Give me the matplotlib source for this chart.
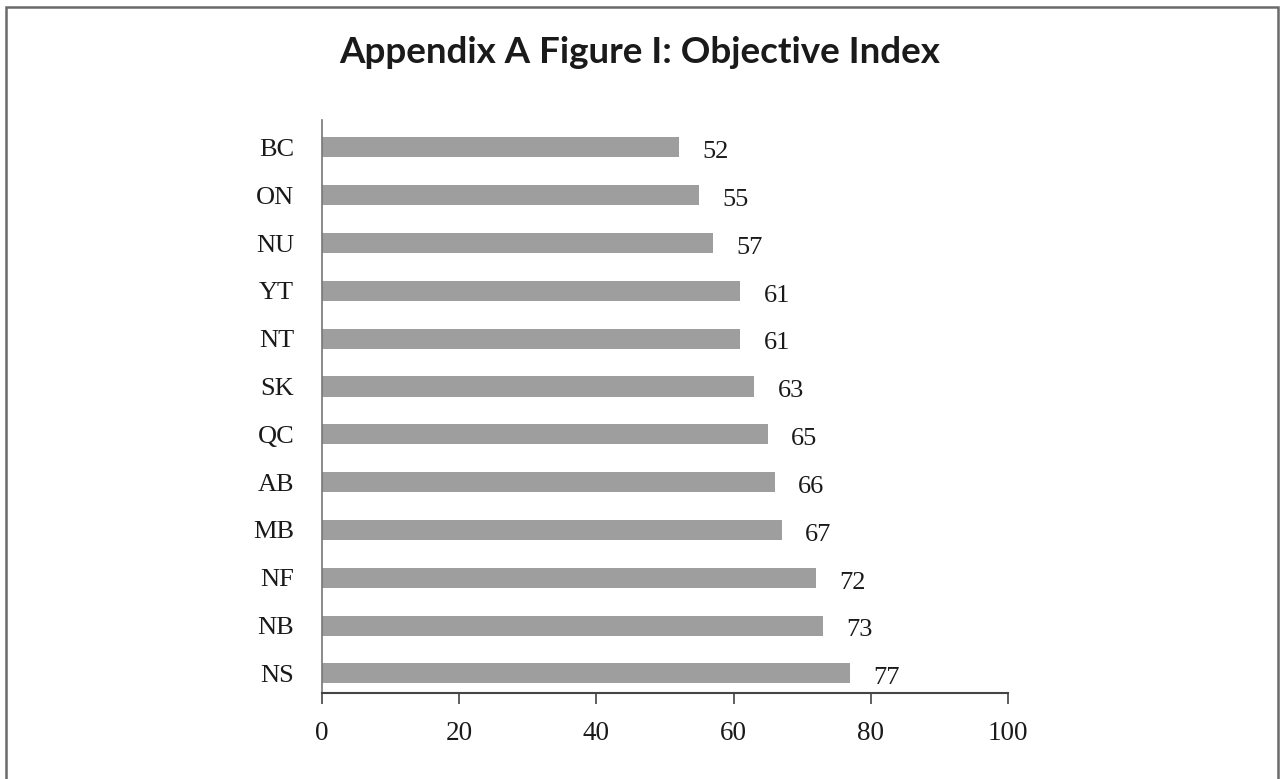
import matplotlib
matplotlib.use("Agg")
import matplotlib.pyplot as plt
import matplotlib.patches as mpatches
import numpy as np

PROVINCES = ["BC", "ON", "NU", "YT", "NT", "SK", "QC", "AB", "MB", "NF", "NB", "NS"]
INDEX = [52, 55, 57, 61, 61, 63, 65, 66, 67, 72, 73, 77]
XTICKS = [0, 20, 40, 60, 80, 100]

TITLE = "Appendix A Figure I: Objective Index"
SERIF = "Liberation Serif"
BAR_COLOR = "#9e9e9e"


def main():
    fig = plt.figure(figsize=(12.8, 7.79), dpi=100)
    ax = fig.add_axes([0.2516, 0.1104, 0.5359, 0.7356])

    y = np.arange(len(PROVINCES))
    ax.barh(y, INDEX, height=0.42, color=BAR_COLOR, edgecolor="none")
    for yi, v in zip(y, INDEX):
        ax.text(v + 3.4, yi + 0.1, f"{v}", ha="left", va="center",
                fontsize=19, family=SERIF, color="#1a1a1a")

    ax.set_xlim(0, 100)
    ax.set_ylim(len(PROVINCES) - 1 + 0.41, -0.575)
    ax.set_yticks(y)
    ax.set_yticklabels(PROVINCES, fontsize=19, family=SERIF, color="#1a1a1a")
    ax.set_xticks(XTICKS)
    ax.set_xticklabels([str(t) for t in XTICKS], fontsize=19.5, family=SERIF,
                       color="#1a1a1a")
    ax.tick_params(axis="y", length=0, pad=20)
    ax.tick_params(axis="x", direction="out", length=8, width=1.2,
                   color="#444444", pad=12)

    ax.spines[["top", "right"]].set_visible(False)
    ax.spines["left"].set_color("#777777")
    ax.spines["left"].set_linewidth(1.2)
    ax.spines["bottom"].set_color("#444444")
    ax.spines["bottom"].set_linewidth(1.5)

    fig.text(0.5, 0.933, TITLE, ha="center", va="center",
             fontsize=26.5, fontweight="bold", family="Lato", color="#1a1a1a")

    # frame round the figure (bottom edge runs off the page)
    frame = mpatches.Rectangle((6 / 1280, -0.02), 1272 / 1280, 1 - 7 / 779 + 0.02,
                               transform=fig.transFigure, fill=False,
                               edgecolor="#6a6a6a", linewidth=1.8)
    fig.patches.append(frame)

    fig.savefig("out.png", dpi=100)
    plt.close(fig)


if __name__ == "__main__":
    main()
